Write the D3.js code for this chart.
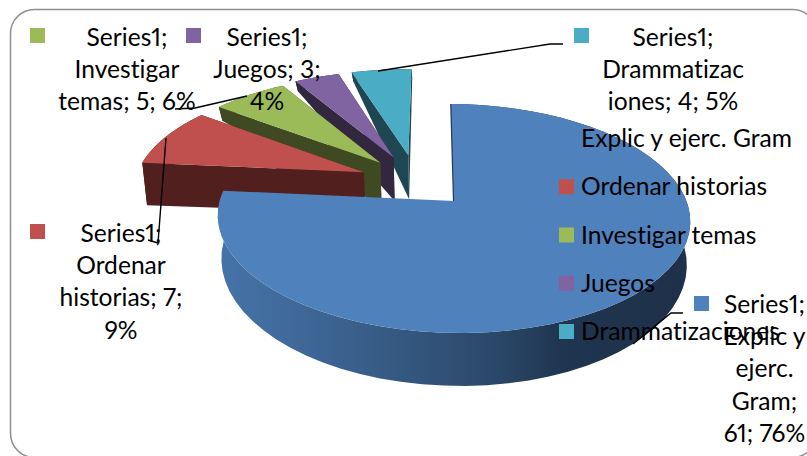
<!DOCTYPE html>
<html>
<head>
<meta charset="utf-8">
<style>
html,body{margin:0;padding:0;background:#fff;overflow:hidden}
svg{display:block}
text{font-family:Lato,"Noto Sans",sans-serif;font-size:24.6px;fill:#000;font-variant-ligatures:none;font-variant-numeric:proportional-nums}
</style>
<script src="https://cdn.jsdelivr.net/npm/d3@7"></script>
</head>
<body>
<svg id="chart" width="807" height="456"></svg>
<script>
// Chart values
const seriesName = "Series1";
const categories = ["Explic y ejerc. Gram", "Ordenar historias", "Investigar temas", "Juegos", "Drammatizaciones"];
const values = [61, 7, 5, 3, 4];
const topColors = ["#4F81BD", "#C0504D", "#9BBB59", "#8064A2", "#4BACC6"];
const sideColors = ["#243C5A", "#501F1E", "#3F4A22", "#33263F", "#1E4753"];
const explode = [0, 0.46, 0.47, 0.48, 0.47];
const labelLines = [
  ["Series1;", "Explic y", "ejerc.", "Gram;", "61; 76%"],
  ["Series1;", "Ordenar", "historias; 7;", "9%"],
  ["Series1;", "Investigar", "temas; 5; 6%"],
  ["Series1;", "Juegos; 3;", "4%"],
  ["Series1;", "Drammatizac", "iones; 4; 5%"]
];
// Label anchors: swatch corner, centre of the text block, first baseline
const labelBoxes = [
  {sx: 694, sy: 296, cx: 764.5, by: 313},
  {sx: 30, sy: 224, cx: 121, by: 242},
  {sx: 30, sy: 28, cx: 127, by: 46},
  {sx: 186, sy: 28, cx: 267, by: 46},
  {sx: 574, sy: 28, cx: 673, by: 46}
];
const leaders = [
  [[633, 344], [671, 313], [683, 313]],
  [[166, 138], [158, 243], [148, 240]],
  [[247, 96], [195, 108], [175, 109]],
  [],
  [[378, 71], [550, 44], [563, 44]]
];

const svg = d3.select("#chart");

// Perspective model of the pie plane: y grows toward the viewer
const cx = 460, cy = 201, Rx = 233.5, Ry = 111.8, persp = 0.153, skew = 3.5;
function project(x, y) {
  const s = 1 / (1 - persp * y);
  return [cx + Rx * x * s, cy + Ry * y * s + skew * x * s];
}

// Extrusion depth by height on the page; the far rim is much shallower
const depth = d3.scaleLinear().domain([75, 108, 155, 175, 333]).range([9, 14, 44, 40, 53]).clamp(true);
function lower(p) {
  return [cx + (p[0] - cx) * 0.985, p[1] + depth(p[1])];
}

const deg = Math.PI / 180;
const startDeg = -1;
const arcs = d3.pie().sort(null).value(d => d)
  .startAngle(startDeg * deg).endAngle((startDeg + 360) * deg)(values);

// Exploded wedges fan out around the upper left of the pie
const fanShift = -0.044;
function apexOf(i, a) {
  if (i === 0) return [-0.025, 0];
  let mid = (a.startAngle + a.endAngle) / 2 / deg;
  if (mid > 180) mid -= 360;
  const dir = (-42 + 0.535 * (mid + 43.5)) * deg;
  return [fanShift + explode[i] * Math.sin(dir), -explode[i] * Math.cos(dir)];
}

function wedge(i) {
  const a = arcs[i];
  const apex = apexOf(i, a);
  const angles = d3.range(0, 61).map(t => a.startAngle + (a.endAngle - a.startAngle) * t / 60);
  const rim = angles.map(t => project(apex[0] + Math.sin(t), apex[1] - Math.cos(t)));
  return {apex: project(apex[0], apex[1]), rim};
}

const line = d3.line();
const defs = svg.append("defs");
const grad = defs.append("linearGradient").attr("id", "blueSide")
  .attr("gradientUnits", "userSpaceOnUse").attr("x1", 220).attr("x2", 693).attr("y1", 0).attr("y2", 0);
[[0, "#4573A8"], [0.17, "#3F6898"], [0.42, "#33557C"], [0.6, "#2A4666"], [0.72, "#1F3550"], [1, "#1F3049"]]
  .forEach(d => grad.append("stop").attr("offset", d[0]).attr("stop-color", d[1]));

// Chart frame
svg.append("rect")
  .attr("x", 10.5).attr("y", 9.5).attr("width", 806).attr("height", 448).attr("rx", 24)
  .attr("fill", "#fff").attr("stroke", "#8E8E8E").attr("stroke-width", 1.5);

// Wedges, painted back to front
const plot = svg.append("g");
[4, 3, 2, 1, 0].forEach(i => {
  const w = wedge(i);
  const g = plot.append("g");
  if (i === 0) {
    const low = w.rim.map(lower);
    g.append("path").attr("d", line(w.rim.concat(low.reverse())) + "Z").attr("fill", "url(#blueSide)");
    g.append("path").attr("d", line([w.rim[0], w.apex])).attr("fill", "none")
      .attr("stroke", sideColors[0]).attr("stroke-width", 2.5);
  } else {
    const corner = w.rim[w.rim.length - 1];
    const first = w.rim[0];
    g.append("path").attr("d", line(w.rim.concat(w.rim.map(lower).reverse())) + "Z").attr("fill", sideColors[i]);
    g.append("path").attr("d", line([corner, w.apex, lower(w.apex), lower(corner)]) + "Z").attr("fill", sideColors[i]);
    g.append("path").attr("d", line([first, w.apex, lower(w.apex), lower(first)]) + "Z").attr("fill", sideColors[i]);
  }
  g.append("path").attr("d", line([w.apex].concat(w.rim)) + "Z").attr("fill", topColors[i]);
});

// Leader lines
svg.append("g").selectAll("path").data(leaders.filter(d => d.length)).join("path")
  .attr("d", d => line(d)).attr("fill", "none").attr("stroke", "#000").attr("stroke-width", 1.4);

// Data labels with their swatches
const lineStep = 32.2;
const labels = svg.append("g").selectAll("g").data(labelBoxes).join("g");
labels.append("rect").attr("x", d => d.sx).attr("y", d => d.sy)
  .attr("width", 15).attr("height", 15).attr("fill", (d, i) => topColors[i]);
labels.each(function(d, i) {
  d3.select(this).selectAll("text").data(labelLines[i]).join("text")
    .attr("x", d.cx).attr("y", (t, k) => d.by + k * lineStep)
    .attr("text-anchor", "middle").text(t => t);
});

// Legend
const legendY = d3.scalePoint().domain(categories).range([131, 324]);
const legend = svg.append("g").selectAll("g").data(categories).join("g")
  .attr("transform", d => `translate(559,${legendY(d)})`);
legend.append("rect").attr("width", 15).attr("height", 15).attr("fill", (d, i) => topColors[i]);
legend.append("text").attr("x", 22).attr("y", 16).text(d => d);
</script>
</body>
</html>
